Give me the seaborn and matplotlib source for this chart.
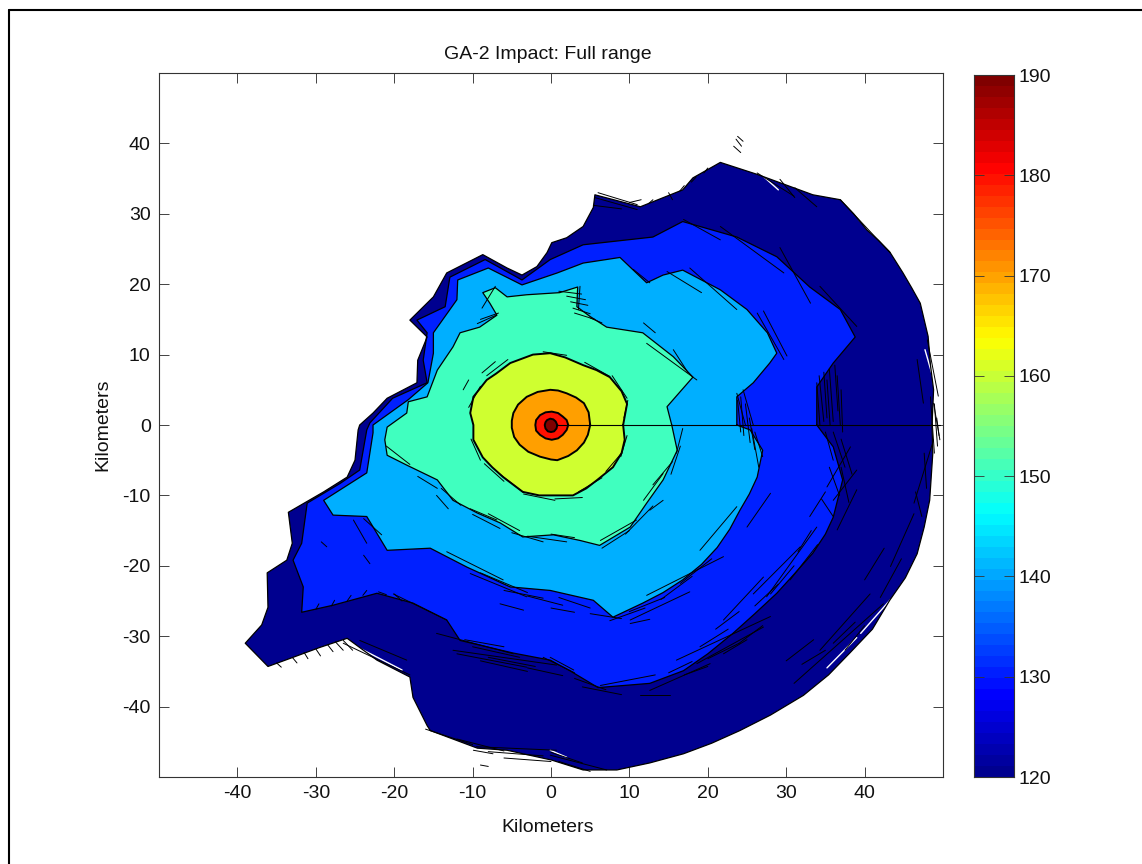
"""
GA-2 impact footprint: filled contour bands of level vs. range, with a jet colorbar.
Contours and streak fragments were read off the picture, in kilometers.
"""

import numpy as np
import pandas as pd
import matplotlib.pyplot as plt
from matplotlib.colors import LinearSegmentedColormap
from matplotlib.lines import Line2D
import seaborn as sns


OUTPUT_FILE = "out.png"

LEVELS = [120, 130, 140, 150, 160, 170, 180, 190]
LEVEL_COLORS = ["#00008F", "#0020FF", "#00AFFF", "#40FFBF",
                "#CFFF30", "#FF9F00", "#FF1000", "#800000"]

AXIS_TICKS = [-40, -30, -20, -10, 0, 10, 20, 30, 40]

# contour outlines, km east / km north
C120_X = [48.6, 48.8, 48.4, 48.1, 47.1, 46.0, 44.9, 43.2, 41.8, 40.3, 38.6, 36.9, 33.4, 26.3, 21.6, 18.1, 16.8, 11.4,
          5.6, 5.4, 4.1, 2.0, 0.1, -0.5, -1.8, -3.7, -5.6, -8.7, -13.3, -15.0, -18.0, -15.8, -17.0, -17.1, -20.9,
          -22.7, -24.4, -24.6, -25.0, -26.0, -29.0, -33.5, -33.0, -33.7, -36.2, -36.1, -36.9, -39.0,
          -36.1, -32.9, -29.5, -26.0, -22.2, -18.0, -17.6, -15.8, -15.4, -9.4, -5.6, 0.1, 4.1, 8.4,
          12.6, 16.9, 20.5, 24.1, 28.0, 32.2, 35.4, 38.1, 41.0, 43.2, 45.2, 46.7, 47.6, 48.3, 48.7]
C120_Y = [0.0, 5.0, 8.5, 12.6, 17.3, 19.5, 21.6, 24.6, 26.2, 27.7, 30.0, 32.0, 32.7, 35.6, 37.3, 35.1, 33.4, 31.0,
          32.7, 30.9, 28.2, 26.6, 25.9, 24.5, 22.5, 21.3, 22.3, 24.2, 21.6, 18.2, 14.9, 12.5, 9.2, 6.0, 3.8,
          1.7, 0.0, -0.7, -5.0, -7.4, -9.5, -12.4, -16.8, -19.2, -21.0, -25.9, -28.4, -31.0,
          -34.3, -33.0, -31.6, -30.3, -33.4, -35.8, -38.7, -42.7, -43.4, -45.9, -46.2, -47.6, -49.0, -49.0,
          -48.0, -46.7, -45.2, -43.4, -41.2, -38.4, -35.5, -32.4, -29.0, -24.9, -21.7, -18.3, -14.5, -10.7, -4.0]

C130_X = [33.9, 33.9, 36.0, 38.8, 36.9, 33.0, 28.8, 23.7, 16.8, 13.0, 4.1, -0.1, -3.7, -8.4, -12.9, -13.5,
          -17.1, -15.8, -16.3, -15.8, -20.2, -23.1, -23.5, -24.4, -26.9, -31.1, -31.8, -32.9, -31.6, -31.8,
          -27.8, -22.2, -17.6, -13.3, -11.6, -4.8, -0.1, 2.4, 6.0, 12.6, 16.9, 20.0, 23.2, 26.0, 28.8, 31.0, 33.4, 35.0, 36.0,
          37.2, 36.0]
C130_Y = [0.0, 5.4, 8.8, 12.5, 16.4, 19.6, 23.9, 26.7, 28.9, 26.7, 25.6, 23.5, 20.6, 23.5, 21.0, 16.8,
          14.9, 13.1, 9.2, 6.0, 3.8, 0.3, -0.7, -6.4, -8.3, -11.1, -16.8, -19.2, -23.0, -26.6,
          -25.6, -23.9, -25.3, -27.7, -30.6, -32.4, -33.4, -34.9, -37.3, -36.7, -34.9, -32.5, -29.6, -26.8, -23.9, -21.2, -18.2, -15.5, -13.1,
          -7.8, -3.1]

C140_X = [23.7, 23.7, 25.8, 27.9, 28.8, 27.6, 25.0, 21.6, 16.8, 14.3, 12.2, 8.8, 4.1, 0.8, -3.7, -8.0, -11.9,
          -12.0, -15.0, -15.0, -15.7, -18.2, -22.7, -22.7, -23.5, -29.0, -27.8, -23.5, -20.9, -15.4, -10.7,
          -5.2, -0.1, 5.4, 7.9, 11.7, 14.3, 16.8, 19.2, 21.2, 22.8, 24.1, 25.3, 26.3, 27.0, 25.4]
C140_Y = [0.0, 4.0, 6.0, 8.8, 10.2, 13.1, 16.4, 19.2, 22.0, 21.3, 20.2, 23.8, 23.0, 21.6, 19.9, 22.3, 20.6,
          17.8, 13.1, 10.2, 6.0, 3.6, 0.0, -1.1, -6.8, -10.7, -12.8, -13.0, -17.8, -17.5, -20.2,
          -23.0, -23.5, -24.9, -27.3, -25.3, -23.8, -22.0, -19.8, -17.4, -14.8, -12.1, -9.8, -7.4, -3.6, -0.7]

C150_X = [15.4, 14.8, 18.1, 15.6, 11.7, 7.1, 5.0, 3.3, 3.4, 1.1, -3.1, -5.6, -7.1, -8.7, -7.8, -6.9, -9.1,
          -11.6, -12.5, -14.5, -15.8, -18.2, -18.4, -20.9, -21.2, -20.9, -18.4, -14.5, -12.5, -9.4, -6.5,
          -3.6, 0.3, 3.7, 6.2, 10.1, 12.2, 14.3, 16.1]
C150_Y = [0.0, 2.6, 6.8, 9.7, 13.1, 13.9, 15.4, 16.8, 19.6, 18.8, 18.5, 18.2, 19.5, 18.8, 17.3, 15.6, 13.9,
          13.1, 11.1, 7.8, 4.0, 3.3, 1.7, -0.3, -2.1, -4.3, -5.7, -7.8, -10.7, -12.5, -13.9,
          -15.9, -15.6, -16.4, -17.1, -14.5, -11.1, -7.8, -3.6]

C160_X = [9.2, 9.7, 9.0, 7.5, 5.8, 4.1, 1.8, -0.1, -2.3, -5.2, -7.0, -8.2, -9.9, -10.3, -9.9, -9.9, -8.7, -7.5,
          -6.1, -3.6, -1.5, 0.3, 2.8, 4.5, 5.9, 7.9, 9.0, 9.4]
C160_Y = [0.0, 3.0, 4.8, 6.8, 7.8, 8.5, 9.6, 10.2, 10.0, 8.8, 7.3, 6.4, 4.0, 1.7, 0.0, -2.1, -4.6, -6.0,
          -7.4, -9.5, -10.0, -10.0, -10.0, -9.0, -7.8, -6.0, -4.0, -2.1]

C170_X = [5.0, 4.8, 4.2, 3.2, 2.0, 0.9, -0.1, -1.7, -3.1, -4.2, -4.8, -5.0, -5.0, -4.7, -4.0, -2.9, -1.4, 0.0, 0.8,
          2.2, 3.3, 4.2, 4.7]
C170_Y = [0.0, 1.8, 3.1, 3.9, 4.5, 4.9, 5.0, 4.7, 4.0, 2.9, 1.7, 0.6, -0.4, -1.7, -2.8, -3.8, -4.5, -4.9, -5.0,
          -4.4, -3.6, -2.5, -1.4]

C180_X = [2.2, 2.0, 1.5, 0.9, 0.1, -0.7, -1.4, -1.9, -2.0, -1.9, -1.4, -0.7, 0.1, 0.9, 1.5, 2.0]
C180_Y = [0.0, 0.7, 1.2, 1.7, 1.9, 1.8, 1.4, 0.7, 0.0, -0.8, -1.4, -1.9, -2.1, -1.9, -1.4, -0.7]

C190_X = [0.8, 0.6, 0.3, -0.1, -0.5, -0.7, -0.8, -0.7, -0.4, 0.0, 0.4, 0.7]
C190_Y = [0.0, 0.5, 0.8, 0.9, 0.7, 0.4, 0.0, -0.5, -0.9, -1.0, -0.9, -0.5]

# ragged contour fragments around the band edges: x0, y0, x1, y1 in km
STREAK_X0 = [22.0, 25.8, 27.5, 16.0, 18.6, 11.4, 6.3, 12.6, 10.1, 10.1, 12.2, 19.0, 25.0, 34.3, 31.0, 43.3, 46.3,
             35.2, 36.0, 36.5, 6.3, 11.8, 12.6, -0.1, -0.1,
             -26.5, -24.4, -20.1, -14.6, -12.5, -12.0, -13.3, -10.3, -6.5, -14.6, -10.3, -25.2, -23.9, -23.9,
             -29.3, -9.9, -9.0, -9.5,
             23.3, 23.6, 23.8, 26.3, 29.2, 31.1, 36.9, 48.0, 46.7, 29.2, 34.3, 21.6, 16.9, 17.7, 14.8, 26.3,
             27.1, 10.5, 11.8, 12.2, 15.6, 3.7, 33.9, 35.2, 36.5, 23.7, 24.5, 48.8,
             -9.0, -9.4, -8.8, -8.8, -11.2,
             -35.0, -33.0, -31.5, -30.0, -28.5, -27.5, -26.5,
             -30.0, -28.0, -26.0, -24.0, -22.0, -20.0,
             18.5, 17.0, 15.0, 20.0, 13.0, 11.5, 6.0, 5.6, 5.4,
             1.0, 2.0, 2.5, 2.8, 3.0, 5.0,
             23.8, 24.2, 24.8, 25.3, 26.0, 25.6,
             34.2, 34.8, 35.5, 36.2, 37.0, 35.0, 36.0, 37.0, 35.5, 37.0, 34.5,
             48.4, 48.9, 49.2, 47.6, 46.5,
             40.0, 42.0, 30.0, 36.0, 37.5, 32.0,
             19.0, 21.0, 22.0, 24.0, 15.0, 17.0, 20.0, 26.0, 28.0, 30.5, 31.5, 33.0,
             -10.0, -8.0, -9.0, -3.0, -11.0, -1.0, 3.0, 4.0,
             -9.0, -6.0, -3.0, 0.0, 1.0, 5.0, 7.5, 10.0, 14.0, 16.5,
             -5.0, -3.0, 0.0, -10.0, -8.0, -14.0, -17.0, -21.0,
             13.0, 15.3, 16.0, 6.5, 9.5,
             -10.2, -8.5, -6.5, -3.5, 0.5, 3.5, 7.0, 8.9, 9.3, 7.8, 4.3, -5.5, -9.0, -1.0,
             -16.0, -12.0, -8.0, -6.0, 0.0, 1.0]
STREAK_Y0 = [-27.7, -24.0, -24.4, -33.4, -33.9, -38.4, -37.0, -37.7, -28.2, -27.7, -24.2, -17.8, -14.5, -32.0, -36.7,
             -20.1, -11.1, -8.8, -10.7, -14.9, -16.4, -10.7, -12.1, -33.0, -46.9,
             -31.0, -30.6, -24.0, -29.6, -32.0, -32.5, -18.0, -21.1, -25.4, -10.0, -11.9, -13.5, -13.3, -18.5,
             -16.6, -46.2, -48.3, -45.7,
             39.6, 40.6, 41.0, 35.8, 34.9, 33.7, 32.0, 12.1, 9.3, 25.2, 19.7, 28.2, 29.2, 22.3, 21.8, 15.9,
             16.2, 22.1, 14.5, 11.6, 10.7, 19.7, 6.0, 6.4, 7.0, 4.5, 5.0, 3.1,
             15.0, 14.4, 16.6, 7.4, 5.0,
             -33.8, -33.0, -32.3, -31.8, -31.2, -30.8, -30.6,
             -26.2, -25.7, -25.0, -24.2, -23.7, -24.0,
             35.2, 34.0, 33.0, 36.5, 32.0, 32.0, 33.0, 32.3, 31.2,
             19.0, 18.3, 17.5, 16.6, 15.9, 15.2,
             3.5, 4.0, 3.0, 1.0, -1.0, -0.5,
             7.0, 7.5, 8.0, 8.5, 5.0, -1.0, -1.0, -2.0, -6.0, -6.0, -10.5,
             4.0, 3.0, 1.0, -4.0, -9.5,
             -22.0, -24.5, -33.5, -31.0, -32.0, -34.0,
             -31.5, -29.0, -32.5, -31.0, -35.2, -35.5, -33.2, -25.7, -24.0, -22.0, -18.0, -13.0,
             -31.5, -33.0, -33.5, -34.5, -30.5, -33.0, -36.0, -37.2,
             -21.0, -23.5, -24.3, -26.0, -24.5, -26.8, -27.8, -26.5, -24.8, -22.5,
             -15.3, -15.8, -15.5, -12.7, -12.6, -9.0, -7.3, -3.0,
             -8.5, -7.0, -4.0, -17.5, -15.5,
             -2.0, -5.5, -7.0, -9.8, -10.5, -9.5, -6.6, -4.5, 1.0, 7.0, 8.9, 9.3, 5.5, 10.4,
             -43.2, -44.6, -46.4, -47.3, -46.5, -47.8]
STREAK_X1 = [27.1, 31.8, 33.9, 28.0, 27.1, 15.2, 13.3, 20.3, 12.6, 17.7, 22.0, 23.7, 28.0, 40.7, 42.4, 46.3, 48.8,
             38.2, 39.0, 39.0, 10.9, 14.3, 14.3, 2.9, 7.1,
             -18.0, -18.4, -13.3, -4.8, 0.7, -3.1, -6.1, -3.1, -3.5, -13.1, -6.9, -23.5, -21.6, -23.1,
             -28.6, -7.4, -8.0, 0.7,
             24.2, 24.3, 24.5, 31.0, 31.1, 33.9, 43.3, 49.4, 47.5, 33.1, 39.0, 29.7, 21.6, 23.7, 19.2, 29.7,
             30.1, 12.6, 13.3, 18.6, 17.5, 3.5, 34.3, 35.6, 36.9, 24.8, 25.8, 49.6,
             -6.7, -7.0, -7.1, -7.1, -10.5,
             -34.4, -32.4, -31.0, -29.4, -27.8, -26.5, -25.3,
             -29.6, -27.6, -25.5, -23.5, -21.0, -19.0,
             17.9, 16.4, 15.5, 19.5, 12.5, 10.0, 11.0, 11.0, 9.0,
             3.9, 4.4, 4.7, 5.0, 5.6, 6.5,
             24.2, 24.6, 25.4, 26.0, 27.0, 26.5,
             34.8, 35.2, 36.0, 36.6, 37.2, 36.0, 37.5, 38.4, 36.8, 38.0, 36.0,
             48.9, 49.3, 49.5, 47.9, 47.3,
             42.5, 44.7, 33.5, 38.8, 40.0, 35.0,
             22.6, 24.0, 25.0, 27.0, 18.0, 20.0, 24.0, 29.0, 31.0, 34.0, 33.2, 35.0,
             -4.0, -2.0, -3.0, 1.5, -6.0, 3.0, 7.0, 9.0,
             -3.0, -1.0, 1.5, 3.0, 5.0, 9.0, 12.0, 14.5, 18.0, 20.5,
             -1.0, 2.0, 3.0, -6.5, -4.0, -11.5, -14.5, -18.0,
             15.5, 16.5, 16.8, 10.0, 13.0,
             -9.0, -6.0, -3.5, 0.5, 4.0, 6.5, 9.0, 9.7, 9.8, 9.7, 7.5, -8.2, -10.5, 2.0,
             -10.0, -6.0, -1.0, 0.0, 4.0, 5.0]
STREAK_Y1 = [-21.6, -17.3, -14.5, -27.2, -28.7, -38.4, -35.5, -33.9, -27.6, -23.7, -18.7, -11.6, -9.7, -24.0, -25.4,
             -12.6, -2.1, -3.1, -6.4, -9.2, -13.5, -6.9, -10.7, -34.8, -49.0,
             -35.5, -33.4, -27.7, -32.5, -34.1, -34.4, -22.0, -24.4, -26.3, -11.9, -13.5, -16.8, -15.6, -19.7,
             -17.3, -46.7, -48.5, -46.2,
             38.7, 39.6, 40.3, 32.5, 32.3, 31.0, 24.4, 4.1, 3.1, 17.3, 14.0, 21.6, 26.3, 16.4, 18.8, 9.3,
             9.8, 20.2, 13.1, 6.4, 7.4, 16.4, 0.0, 0.0, 0.0, 0.0, 0.0, -2.1,
             15.9, 15.6, 19.7, 9.0, 6.4,
             -34.4, -33.8, -33.2, -32.8, -32.2, -32.0, -32.0,
             -25.4, -24.9, -24.2, -23.5, -24.1, -25.0,
             34.5, 33.2, 32.0, 35.8, 31.5, 31.6, 31.3, 30.6, 30.7,
             18.6, 17.8, 17.0, 15.8, 15.0, 14.5,
             -1.0, -1.5, -2.5, -3.5, -4.5, -6.0,
             0.5, 1.0, 0.5, 2.0, -1.0, -5.0, -6.0, -7.0, -10.0, -11.0, -13.0,
             -4.0, -3.0, -1.5, -9.0, -13.0,
             -17.5, -19.0, -30.5, -28.0, -28.5, -32.0,
             -29.0, -26.5, -30.5, -28.5, -33.6, -34.3, -31.0, -22.6, -20.0, -17.0, -15.0, -9.5,
             -33.0, -34.3, -35.0, -35.6, -31.5, -35.2, -37.6, -38.3,
             -23.8, -24.6, -25.6, -26.6, -26.0, -27.5, -26.0, -24.5, -21.5, -19.0,
             -16.6, -16.6, -16.0, -14.7, -15.0, -11.4, -9.0, -5.6,
             -5.2, -3.0, -0.5, -15.0, -11.5,
             -5.0, -8.0, -9.6, -10.7, -10.3, -7.5, -4.0, -1.5, 3.5, 3.8, 6.9, 7.0, 2.5, 9.9,
             -45.4, -46.3, -47.0, -47.8, -48.0, -49.2]

# thin white gaps where the outer band breaks up
GAP_X0 = [35.2, 39.5, -26.0, 47.7, 37.5, 27.1, -0.1]
GAP_Y0 = [-34.5, -29.6, -30.8, 10.7, 32.0, 35.3, -46.2]
GAP_X1 = [39.0, 43.3, -19.0, 49.4, 39.4, 29.0, 2.0]
GAP_Y1 = [-30.2, -24.8, -34.8, 4.1, 29.0, 33.4, -47.2]

# the seam line of the radial grid, running east from the center
SEAM_X = [0.8, 49.6]
SEAM_Y = [0.0, 0.0]

CONTOURS = [(C120_X, C120_Y), (C130_X, C130_Y), (C140_X, C140_Y), (C150_X, C150_Y),
            (C160_X, C160_Y), (C170_X, C170_Y), (C180_X, C180_Y), (C190_X, C190_Y)]

# jet as a 64 step table, the colorbar shows the steps
JET = LinearSegmentedColormap.from_list(
    "jet64",
    [(0.0, "#00008F"), (1 / 9, "#0000FF"), (3 / 8, "#00FFFF"), (5 / 8, "#FFFF00"),
     (7 / 8, "#FF0000"), (1.0, "#800000")],
    N=64,
)


def closed(values):
    return list(values) + [values[0]]


def contour_frame():
    rows = []
    for level, (xs, ys) in zip(LEVELS, CONTOURS):
        rows.append(pd.DataFrame({"x": closed(xs), "y": closed(ys), "level": level,
                                  "order": range(len(xs) + 1)}))
    return pd.concat(rows, ignore_index=True)


def segment_frame(x0, y0, x1, y1):
    return pd.DataFrame({
        "x": x0 + x1,
        "y": y0 + y1,
        "segment": list(range(len(x0))) * 2,
    })


def main():
    sns.set_theme(style="ticks", rc={"font.family": "Liberation Sans", "axes.unicode_minus": False,
                                     "xtick.direction": "in", "ytick.direction": "in"})

    fig = plt.figure(figsize=(11.42, 8.64), dpi=100, facecolor="white")
    w, h = 1142.0, 864.0
    ax = fig.add_axes([159 / w, 1 - 777 / h, 784 / w, 704 / h])
    cax = fig.add_axes([974 / w, 1 - 777 / h, 40 / w, 702 / h])

    df = contour_frame()
    for level, color in zip(LEVELS, LEVEL_COLORS):
        sub = df[df["level"] == level]
        ax.fill(sub["x"], sub["y"], facecolor=color, edgecolor="none", zorder=level / 100)

    # inner rings are drawn heavier, their fragments pile up there
    outer = df[df["level"] < 160]
    inner = df[df["level"] >= 160]
    sns.lineplot(data=outer, x="x", y="y", units="level", estimator=None, sort=False,
                 color="black", linewidth=0.9, ax=ax, zorder=3, legend=False)
    sns.lineplot(data=inner, x="x", y="y", units="level", estimator=None, sort=False,
                 color="black", linewidth=1.4, ax=ax, zorder=3, legend=False)
    sns.lineplot(data=segment_frame(GAP_X0, GAP_Y0, GAP_X1, GAP_Y1), x="x", y="y", units="segment",
                 estimator=None, sort=False, color="white", linewidth=1.0, ax=ax, zorder=2.9, legend=False)
    sns.lineplot(data=segment_frame(STREAK_X0, STREAK_Y0, STREAK_X1, STREAK_Y1), x="x", y="y", units="segment",
                 estimator=None, sort=False, color="black", linewidth=0.7, ax=ax, zorder=3, legend=False)
    ax.plot(SEAM_X, SEAM_Y, color="black", linewidth=0.8, zorder=3)

    ax.set_xlim(-50, 50)
    ax.set_ylim(-50, 50)
    ax.set_xticks(AXIS_TICKS)
    ax.set_yticks(AXIS_TICKS)
    ax.set_title("GA-2 Impact: Full range", fontsize=14, pad=10, x=0.4965, color="#111111")
    ax.set_xlabel("Kilometers", fontsize=14, labelpad=12, x=0.4955, color="#111111")
    ax.set_ylabel("Kilometers", fontsize=14, labelpad=8, color="#111111")
    ax.tick_params(axis="both", top=True, right=True, length=7, width=0.6,
                   color="#222222", labelsize=14, labelcolor="#111111", pad=6)
    for spine in ax.spines.values():
        spine.set_linewidth(0.8)
        spine.set_color("#333333")

    # colorbar
    gradient = np.linspace(120, 190, 64)[::-1].reshape(-1, 1)
    cax.imshow(gradient, cmap=JET, aspect="auto", interpolation="nearest",
               extent=[0, 1, 120, 190], vmin=120, vmax=190)
    cax.set_xticks([])
    cax.yaxis.tick_right()
    cax.set_yticks(LEVELS)
    cax.tick_params(axis="y", left=True, right=True, direction="in", length=7, width=0.6,
                    color="#333333", labelsize=14, labelcolor="#111111", pad=3)
    for spine in cax.spines.values():
        spine.set_linewidth(0.8)
        spine.set_color("#333333")

    # page frame, only the top and left edges show
    fig.add_artist(Line2D([8.5 / w, 1.0], [1 - 10 / h, 1 - 10 / h], transform=fig.transFigure,
                          color="black", linewidth=1.5))
    fig.add_artist(Line2D([8.5 / w, 8.5 / w], [0.0, 1 - 10 / h], transform=fig.transFigure,
                          color="black", linewidth=1.5))

    fig.savefig(OUTPUT_FILE, dpi=100)


if __name__ == "__main__":
    main()
